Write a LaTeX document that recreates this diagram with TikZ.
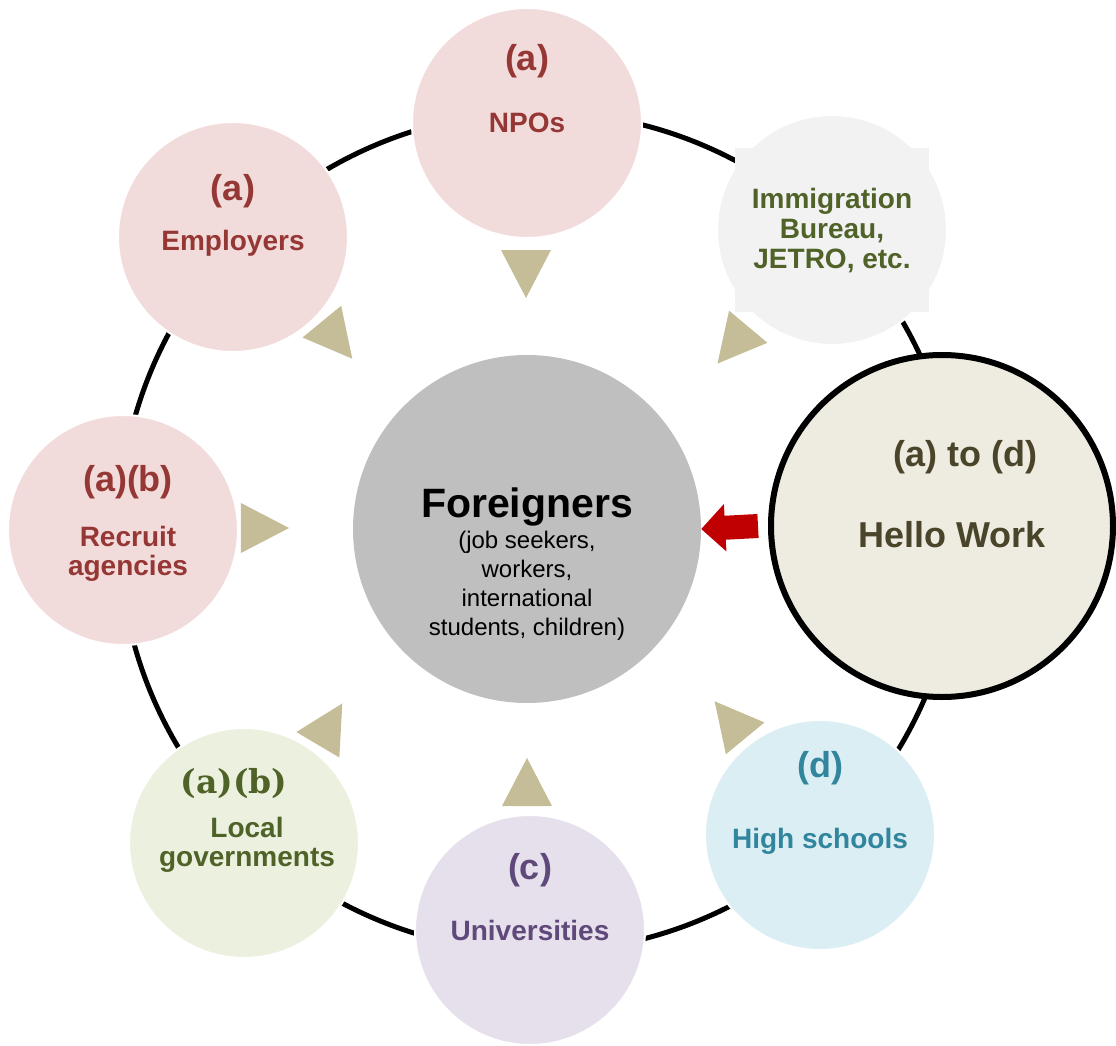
\documentclass[tikz,border=0pt]{standalone}
\usepackage{fontspec}
\setmainfont{Liberation Sans}
\newfontfamily\tagserif{DejaVu Serif}
\usetikzlibrary{arrows.meta}
\definecolor{pinkfill}{HTML}{F2DCDB}
\definecolor{pinktext}{HTML}{953735}
\definecolor{greenfill}{HTML}{EBF1DE}
\definecolor{greentext}{HTML}{4F6228}
\definecolor{purplefill}{HTML}{E6E0EC}
\definecolor{purpletext}{HTML}{5F497A}
\definecolor{bluefill}{HTML}{DBEEF4}
\definecolor{bluetext}{HTML}{31859C}
\definecolor{grayfill}{HTML}{F2F2F2}
\definecolor{hwfill}{HTML}{EEECE1}
\definecolor{hwtext}{HTML}{4A452A}
\definecolor{centerfill}{HTML}{BFBFBF}
\definecolor{tanfill}{HTML}{C4BD97}
\definecolor{redarrow}{HTML}{C00000}
\tikzstyle{node_sat} = [circle, draw=white, line width=2pt, inner sep=0pt, minimum size=230pt]
\tikzstyle{node_big} = [circle, inner sep=0pt, minimum size=348pt]
\tikzstyle{text_tag} = [inner sep=0pt, font=\fontsize{36}{40}\selectfont\bfseries]
\tikzstyle{text_name} = [inner sep=0pt, align=center, font=\fontsize{28}{30}\selectfont\bfseries]
\tikzstyle{edge_ring} = [line width=5pt]
\tikzstyle{tri_pointer} = [fill=tanfill]
\tikzstyle{arrow_red} = [draw=redarrow, line width=24pt, -{Triangle[width=46pt,length=24pt]}]

\begin{document}
\begin{tikzpicture}[x=1pt, y=1pt]
\useasboundingbox (-527,-516) rectangle (589,529);
\coordinate (ringc) at (12,-3);
\draw[edge_ring] (ringc) circle (420);

\node (foreigner) at (0,0) [node_big, fill=centerfill] {};
\node (npo) at (0,406) [node_sat, fill=pinkfill] {};
\node (employer) at (-294,292) [node_sat, fill=pinkfill] {};
\node (recruit) at (-404,-1) [node_sat, fill=pinkfill] {};
\node (localgov) at (-283,-314) [node_sat, fill=greenfill] {};
\node (univ) at (3,-401) [node_sat, fill=purplefill] {};
\node (highsch) at (293,-306) [node_sat, fill=bluefill] {};
\node (immig) at (305,299) [node_sat, fill=grayfill] {};
\node (hellowork) at (415,3) [node_big, minimum size=342pt, draw=black, line width=6pt, fill=hwfill] {};
\fill[grayfill] ([shift={(-97,-81.5)}]immig.center) rectangle ([shift={(97,81.5)}]immig.center);

\node (foreignerText) at ([yshift=22pt]foreigner.center) [inner sep=0pt, font=\fontsize{41}{44}\selectfont\bfseries] {Foreigners};
\node (foreignerSub) at ([yshift=-57pt]foreigner.center) [inner sep=0pt, align=center, font=\fontsize{24}{29}\selectfont] {(job seekers,\\workers,\\international\\students, children)};

\node (npoTag) at ([yshift=62pt]npo.center) [text_tag, text=pinktext] {(a)};
\node (npoText) at (npo.center) [text_name, text=pinktext] {NPOs};
\node (employerTag) at ([yshift=46pt]employer.center) [text_tag, text=pinktext] {(a)};
\node (employerText) at ([yshift=-6pt]employer.center) [text_name, text=pinktext] {Employers};
\node (recruitTag) at ([shift={(5,48)}]recruit.center) [text_tag, text=pinktext] {(a)(b)};
\node (recruitText) at ([shift={(5,-24)}]recruit.center) [text_name, font=\fontsize{28}{29}\selectfont\bfseries, text=pinktext] {Recruit\\agencies};
\node (localgovTag) at ([shift={(-10,59)}]localgov.center) [text_tag, font=\fontsize{33}{36}\selectfont\tagserif\bfseries, text=greentext] {(a)(b)};
\node (localgovText) at ([shift={(3,-2)}]localgov.center) [text_name, font=\fontsize{28}{29}\selectfont\bfseries, text=greentext] {Local\\governments};
\node (univTag) at ([yshift=60pt]univ.center) [text_tag, text=purpletext] {(c)};
\node (univText) at (univ.center) [text_name, text=purpletext] {Universities};
\node (highschTag) at ([yshift=67pt]highsch.center) [text_tag, text=bluetext] {(d)};
\node (highschText) at ([yshift=-6pt]highsch.center) [text_name, text=bluetext] {High schools};
\node (immigText) at ([yshift=-1pt]immig.center) [text_name, text=greentext] {Immigration\\Bureau,\\JETRO, etc.};
\node (helloTag) at ([shift={(23.5,69)}]hellowork.center) [text_tag, text=hwtext] {(a) to (d)};
\node (helloText) at ([shift={(10,-8.5)}]hellowork.center) [text_tag, text=hwtext] {Hello Work};

\foreach \tx/\ty/\ta in {-1/263/-90, -195/195/-50.6, 211/190/230.1, -270/1/0, -201/-202/59.4, 0/-261/90, 208/-197/129.5}
  \fill[tri_pointer, shift={(\tx,\ty)}, rotate=\ta] (32,0) -- (-16,25) -- (-16,-25) -- cycle;

\draw[arrow_red] ([xshift=-10pt]hellowork.west) -- (foreigner.east);
\end{tikzpicture}
\end{document}
